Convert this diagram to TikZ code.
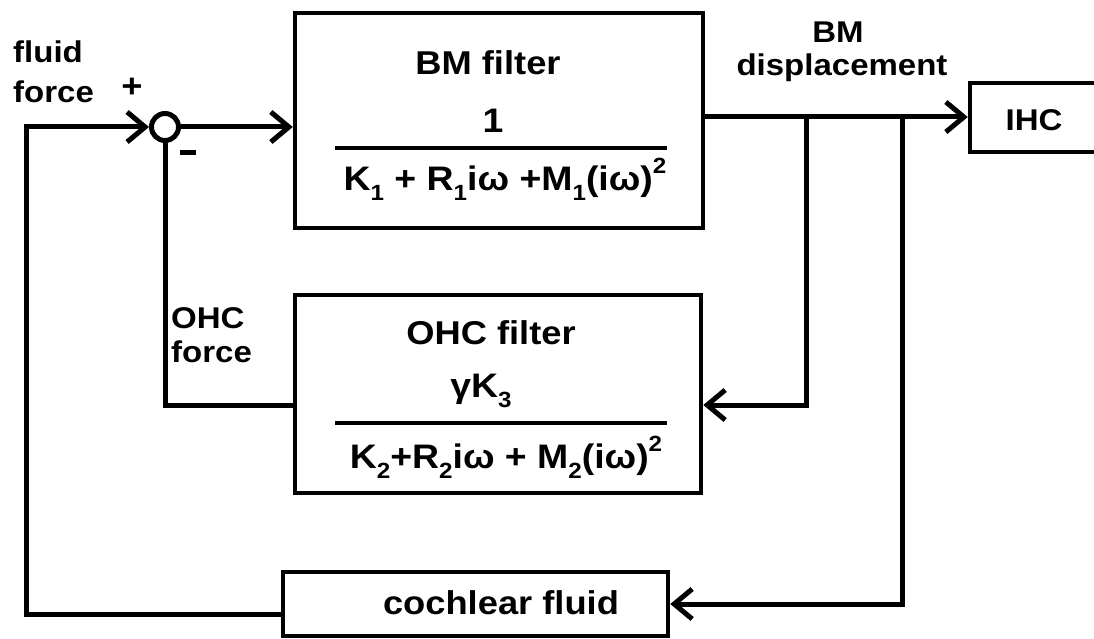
\documentclass[tikz,border=0pt]{standalone}
\usepackage{fontspec}
\setmainfont{Liberation Sans}[FakeStretch=1.1]
\usetikzlibrary{arrows.meta,calc}
\newcommand{\lo}[1]{\raisebox{-0.3em}{\fontsize{22}{22}\selectfont #1}}
\newcommand{\hi}[1]{\raisebox{0.5em}{\fontsize{22}{22}\selectfont #1}}
\begin{document}
\begin{tikzpicture}[x=1pt,y=-1pt,
  blk/.style={draw, line width=4.5pt, inner sep=0pt},
  lab/.style={font=\fontsize{30}{34}\selectfont\bfseries, inner sep=0pt},
  ttl/.style={font=\fontsize{33}{36}\selectfont\bfseries, inner sep=0pt},
  frm/.style={font=\fontsize{34}{36}\selectfont\bfseries, inner sep=0pt},
  conn/.style={line width=5pt},
  arr/.style={-{Straight Barb[length=18pt,width=30pt]}}]
\clip (0,0) rectangle (1094,639);
\fill[white] (0,0) rectangle (1094,639);
% blocks
\node[blk, minimum width=408pt, minimum height=215pt] (bm) at (499,120.5) {};
\node[blk, minimum width=406pt, minimum height=198pt] (ohc) at (498,394) {};
\node[blk, minimum width=385pt, minimum height=64pt] (coch) at (475.5,604) {};
\node[ttl] (cocht) at (501,603) {cochlear fluid};
\node[blk, minimum width=160pt, minimum height=69pt] (ihc) at (1050,117.5) {};
\node[lab] (ihct) at (1034,120) {IHC};
\node[draw, circle, line width=5pt, minimum size=27pt, inner sep=0pt] (sum) at (165,127) {};
% texts in blocks
\node[ttl] (bmt) at (488,63) {BM filter};
\node[frm] (bmn) at (493,121) {1};
\coordinate (bmb1) at (335,148);
\coordinate (bmb2) at (667,148);
\draw[line width=4.5pt] (bmb1) -- (bmb2);
\node[frm] (bmd) at (505,179) {K\lo{1} + R\lo{1}iω +M\lo{1}(iω)\hi{2}};
\node[ttl] (ohct) at (491,333) {OHC filter};
\node[frm] (ohcn) at (481,391) {γK\lo{3}};
\coordinate (ohb1) at (335,423);
\coordinate (ohb2) at (667,423);
\draw[line width=4.5pt] (ohb1) -- (ohb2);
\node[frm] (ohcd) at (506,457) {K\lo{2}+R\lo{2}iω + M\lo{2}(iω)\hi{2}};
% labels
\node[lab, anchor=west] (fl) at (13,52) {fluid};
\node[lab, anchor=west] (fo) at (13,92) {force};
\node[ttl] (plus) at (132,88) {+};
\node[inner sep=0pt] (minus) at (188,153) {\rule{16pt}{5pt}};
\node[lab, anchor=west] (oh1) at (171,318) {OHC};
\node[lab, anchor=west] (oh2) at (171,352) {force};
\node[lab] (dsp1) at (838,32) {BM};
\node[lab] (dsp2) at (842,68) {displacement};
% coordinates
\coordinate (yo) at (0,117);
\coordinate (yf) at (0,405);
\coordinate (b1) at (806,117);
\coordinate (b2) at (902,117);
\coordinate (lc) at (26,127);
% connectors
\draw[conn, arr] ($(coch.west)+(0,10)$) -| (lc) -- (sum.west);
\draw[conn, arr] (sum.east) -- (sum.east -| bm.west);
\draw[conn, arr] (bm.east |- yo) -- (ihc.west |- yo);
\draw[conn, arr] (b1) |- (ohc.east |- yf);
\draw[conn, arr] (b2) |- (coch.east);
\draw[conn] (sum.south) |- (ohc.west |- yf);
\end{tikzpicture}
\end{document}
